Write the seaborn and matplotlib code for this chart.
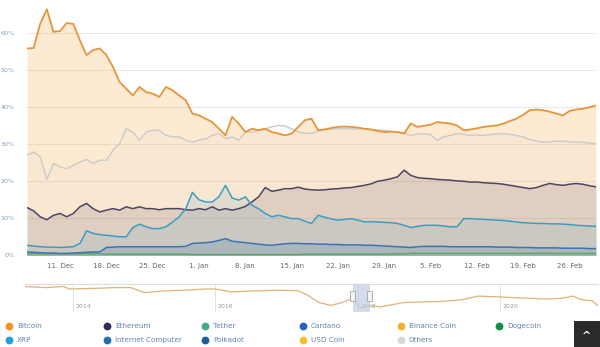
import matplotlib
matplotlib.use("Agg")
import matplotlib.pyplot as plt
import matplotlib.dates as mdates
from matplotlib.lines import Line2D
from matplotlib.patches import Rectangle
import seaborn as sns
import pandas as pd

# ---------------- data ----------------
start_date = "2017-12-06"
n_days = 87

bitcoin = [55.9, 56.0, 62.6, 66.5, 60.4, 60.6, 62.8, 62.5, 58.1, 54.1,
           55.5, 55.9, 54.1, 50.9, 46.8, 45.0, 43.2, 45.5, 44.1, 43.7,
           42.8, 45.5, 44.6, 43.2, 41.9, 38.3, 37.8, 36.9, 36.0, 34.2,
           32.4, 37.4, 35.6, 33.3, 34.2, 33.8, 34.2, 33.3, 32.9, 32.4,
           32.9, 34.7, 36.5, 36.9, 33.8, 34.0, 34.4, 34.7, 34.8, 34.7,
           34.5, 34.2, 34.0, 33.6, 33.3, 33.4, 33.3, 32.9, 35.6, 34.7,
           35.0, 35.3, 36.0, 35.8, 35.6, 35.1, 33.8, 34.0, 34.3, 34.7,
           34.9, 35.1, 35.6, 36.3, 36.9, 38.0, 39.2, 39.4, 39.2, 38.8,
           38.3, 37.8, 39.0, 39.4, 39.6, 40.0, 40.5]

ethereum = [12.9, 12.0, 10.4, 9.6, 10.8, 11.3, 10.4, 11.3, 13.1, 14.0,
            12.6, 11.7, 12.2, 12.6, 12.2, 13.1, 12.6, 13.1, 12.6, 12.6,
            12.3, 12.6, 12.6, 12.6, 12.3, 12.2, 12.6, 12.3, 13.1, 12.2,
            12.6, 12.2, 12.6, 13.2, 14.4, 15.8, 18.3, 17.3, 17.6, 18.0,
            18.0, 18.4, 17.9, 17.7, 17.6, 17.7, 17.9, 18.0, 18.2, 18.3,
            18.6, 18.9, 19.3, 20.0, 20.3, 20.7, 21.2, 23.0, 21.6, 21.0,
            20.8, 20.7, 20.5, 20.4, 20.3, 20.1, 20.0, 19.8, 19.8, 19.6,
            19.5, 19.4, 19.2, 18.9, 18.6, 18.3, 18.0, 18.3, 18.9, 19.4,
            19.1, 18.9, 19.2, 19.4, 19.2, 18.8, 18.5]

xrp = [2.7, 2.5, 2.3, 2.2, 2.2, 2.1, 2.2, 2.3, 3.2, 6.6,
       5.9, 5.6, 5.4, 5.2, 5.0, 5.0, 7.5, 8.4, 7.7, 7.2,
       7.2, 7.7, 9.0, 10.4, 12.6, 17.0, 15.0, 14.4, 14.4, 15.8,
       18.9, 15.5, 14.9, 15.8, 13.5, 12.6, 11.3, 10.4, 10.8, 10.4,
       9.9, 9.9, 9.2, 8.6, 10.8, 10.3, 9.8, 9.5, 9.7, 9.9,
       9.5, 9.0, 9.1, 9.0, 8.9, 8.8, 8.6, 8.1, 7.5, 7.8,
       8.1, 8.1, 8.1, 7.9, 7.7, 7.7, 9.9, 9.9, 9.8, 9.7,
       9.6, 9.5, 9.4, 9.2, 9.0, 8.8, 8.7, 8.6, 8.6, 8.5,
       8.5, 8.4, 8.3, 8.1, 8.0, 7.9, 7.8]

cardano = [0.9, 0.8, 0.7, 0.6, 0.6, 0.5, 0.5, 0.6, 0.7, 0.8,
           0.9, 0.9, 2.1, 2.2, 2.3, 2.3, 2.3, 2.3, 2.3, 2.3,
           2.3, 2.3, 2.3, 2.3, 2.4, 3.2, 3.3, 3.4, 3.6, 4.0,
           4.5, 3.8, 3.6, 3.4, 3.2, 3.0, 2.8, 2.7, 2.9, 3.1,
           3.2, 3.2, 3.1, 3.1, 3.0, 3.0, 2.9, 2.9, 2.8, 2.8,
           2.8, 2.7, 2.7, 2.6, 2.5, 2.4, 2.3, 2.2, 2.1, 2.3,
           2.4, 2.4, 2.4, 2.4, 2.3, 2.3, 2.3, 2.3, 2.3, 2.3,
           2.3, 2.2, 2.2, 2.2, 2.1, 2.1, 2.1, 2.0, 2.0, 2.0,
           2.0, 1.9, 1.9, 1.9, 1.9, 1.8, 1.8]

tether = [0.4, 0.4, 0.4, 0.3, 0.4, 0.4, 0.4, 0.4, 0.4, 0.4,
          0.4, 0.4, 0.3, 0.3, 0.3, 0.3, 0.3, 0.3, 0.3, 0.3,
          0.3, 0.3, 0.3, 0.3, 0.3, 0.2, 0.2, 0.2, 0.2, 0.2,
          0.2, 0.2, 0.2, 0.2, 0.2, 0.2, 0.2, 0.2, 0.2, 0.2,
          0.2, 0.2, 0.3, 0.3, 0.3, 0.3, 0.3, 0.3, 0.3, 0.3,
          0.3, 0.3, 0.3, 0.3, 0.3, 0.4, 0.4, 0.4, 0.5, 0.5,
          0.5, 0.5, 0.5, 0.5, 0.5, 0.5, 0.5, 0.5, 0.5, 0.5,
          0.5, 0.5, 0.5, 0.5, 0.5, 0.5, 0.5, 0.5, 0.5, 0.5,
          0.5, 0.5, 0.5, 0.5, 0.5, 0.5, 0.5]

others = [27.0, 27.9, 26.6, 20.5, 24.8, 23.9, 23.4, 24.3, 25.2, 25.9,
          24.8, 25.7, 25.7, 28.4, 30.2, 34.2, 33.3, 31.1, 33.3, 33.8,
          33.8, 32.4, 32.0, 32.0, 31.1, 30.6, 31.1, 31.5, 32.4, 32.9,
          31.5, 32.0, 31.1, 33.3, 33.3, 33.8, 34.2, 34.7, 35.1, 34.9,
          34.2, 33.3, 33.0, 32.9, 33.6, 34.0, 34.1, 34.2, 34.3, 34.1,
          34.2, 34.2, 34.0, 33.9, 33.8, 33.5, 33.3, 33.0, 32.4, 32.8,
          32.9, 32.6, 31.1, 32.0, 32.4, 32.9, 32.7, 32.4, 32.5, 32.4,
          32.6, 32.8, 32.9, 32.7, 32.4, 32.0, 31.3, 30.9, 30.6, 30.7,
          30.8, 30.9, 30.7, 30.6, 30.5, 30.3, 30.2]

nav_dates = ["2013-04-28", "2013-08-14", "2013-11-13", "2013-12-13", "2014-04-27",
             "2014-08-04", "2014-10-23", "2015-01-01", "2015-03-28", "2015-07-27",
             "2015-11-21", "2016-01-01", "2016-03-21", "2016-06-28", "2016-11-13",
             "2017-02-28", "2017-04-20", "2017-06-17", "2017-08-15", "2017-10-12",
             "2017-11-25", "2017-12-08", "2018-01-10", "2018-03-01", "2018-04-27",
             "2018-08-22", "2018-12-01", "2019-03-10", "2019-06-21", "2019-09-10",
             "2020-01-01", "2020-04-08", "2020-08-25", "2020-11-13", "2021-01-11",
             "2021-02-20", "2021-04-20", "2021-05-18"]
nav_btc = [95.0, 91.8, 95.0, 87.8, 89.8,
           91.8, 91.8, 77.4, 81.7, 84.6,
           87.8, 87.8, 79.4, 81.7, 84.6,
           82.6, 69.3, 48.6, 40.5, 48.6,
           58.0, 62.0, 33.0, 40.0, 36.2,
           48.6, 50.6, 51.8, 57.0, 67.3,
           65.0, 62.1, 59.0, 61.0, 67.3,
           57.0, 53.8, 38.5]
nav_years = [2014, 2016, 2018, 2020]

legend_row1 = ["Bitcoin", "Ethereum", "Tether", "Cardano", "Binance Coin", "Dogecoin"]
legend_row1_colors = ["#F7931A", "#2E2E5C", "#3FAE85", "#2A5FC9", "#F0B429", "#0E9142"]
legend_row2 = ["XRP", "Internet Computer", "Polkadot", "USD Coin", "Others"]
legend_row2_colors = ["#1FA0D8", "#1F6FB0", "#17609E", "#F2C12E", "#D9D9D9"]

y_ticks = [0, 10, 20, 30, 40, 50, 60]

# ---------------- figure ----------------
sns.set_style("white")
plt.rcParams['font.family'] = ['DejaVu Sans']

W, H = 600, 347
fig = plt.figure(figsize=(6.0, 3.47), dpi=100)


def fx(px):
    return px / W


def fy(px):
    return 1 - px / H


dates = pd.date_range(start_date, periods=n_days, freq="D")
ax = fig.add_axes([fx(27), fy(256), fx(596) - fx(27), fy(0) - fy(256)])

series = [
    ("Bitcoin", bitcoin, "#E5953A", "#F7931A", 0.19, 1.3, 5),
    ("Ethereum", ethereum, "#4B4563", "#4B4563", 0.15, 1.1, 4),
    ("Tether", tether, "#5DAA68", "#5DAA68", 0.2, 1.1, 4),
    ("Cardano", cardano, "#3B73B3", "#3B73B3", 0.22, 1.1, 4),
    ("XRP", xrp, "#3A9EC2", "#5A9CC4", 0.16, 1.1, 4),
    ("Others", others, "#CACACA", "#BBBBBB", 0.05, 1.0, 3),
]

for name, vals, lc, fc, a, lw, z in series:
    ax.fill_between(dates, 0, vals, color=fc, alpha=a, lw=0, zorder=2)
for name, vals, lc, fc, a, lw, z in series:
    sns.lineplot(x=dates, y=vals, ax=ax, color=lc, lw=lw, legend=False, zorder=z)

ax.set_xlim(dates[0], dates[-1])
ax.set_ylim(-0.2, 69.0)
ax.set_yticks(y_ticks)
ax.set_yticklabels([f"{v}%" for v in y_ticks])
ax.yaxis.grid(True, color="#E8E8E8", lw=0.7, zorder=0)
ax.xaxis.grid(False)
ax.set_axisbelow(True)
ax.xaxis.set_major_locator(mdates.WeekdayLocator(byweekday=mdates.MO))
ax.xaxis.set_major_formatter(mdates.DateFormatter("%-d. %b"))
ax.tick_params(axis="x", length=0, pad=5, labelsize=5, labelcolor="#666666")
ax.tick_params(axis="y", length=0, pad=9, labelsize=4.6, labelcolor="#8AA0B8")
ax.set_xlabel("")
ax.set_ylabel("")
for s in ax.spines.values():
    s.set_visible(False)

# ---------------- navigator ----------------
nax = fig.add_axes([fx(25), fy(312), fx(598) - fx(25), fy(284) - fy(312)])
nd = pd.to_datetime(nav_dates)
sns.lineplot(x=nd, y=nav_btc, ax=nax, color="#DDB478", lw=0.9, legend=False, zorder=3)
nax.set_xlim(nd[0], nd[-1])
nax.set_ylim(21.5, 102.2)
nax.set_xticks([])
nax.set_yticks([])
nax.set_xlabel("")
nax.set_ylabel("")
for k, s in nax.spines.items():
    s.set_visible(k == "top")
nax.spines["top"].set_color("#DDDDDD")
nax.spines["top"].set_linewidth(0.8)
for yr in nav_years:
    t = pd.Timestamp(f"{yr}-01-01")
    nax.axvline(t, color="#E3E3E3", lw=0.7, zorder=1)
    nax.text(t + pd.Timedelta(days=12), 0.2, str(yr), transform=nax.get_xaxis_transform(),
             fontsize=4.5, color="#9A9A9A", va="center", ha="left", zorder=2)

sel0, sel1 = pd.Timestamp(dates[0]), pd.Timestamp(dates[-1])
nax.axvspan(sel0, sel1, color="#C5D1E3", alpha=0.75, lw=0, zorder=4)
fig.canvas.draw()
for t in (sel0, sel1):
    xd = nax.transData.transform((mdates.date2num(t), 50))[0]
    fig.add_artist(Rectangle((xd - 2.5, H - 301), 5, 10, transform=None,
                             facecolor="#F2F2F2", edgecolor="#999999", lw=0.5, zorder=6))

# ---------------- legend ----------------
for row, (names, cols) in enumerate([(legend_row1, legend_row1_colors),
                                     (legend_row2, legend_row2_colors)]):
    ypx = 326 + 14 * row
    for i, (nm, c) in enumerate(zip(names, cols)):
        xm = 9 + 98 * i
        fig.add_artist(Line2D([fx(xm)], [fy(ypx)], marker="o", ms=4.6, color=c,
                              lw=0, transform=fig.transFigure))
        fig.text(fx(xm + 8), fy(ypx), nm, fontsize=5.2, color="#6383B3",
                 va="center", ha="left")

# scroll-to-top button
fig.add_artist(Rectangle((fx(574), 0), fx(600) - fx(574), fy(321),
                         transform=fig.transFigure, facecolor="#2B2B2B", lw=0))
fig.text(fx(587), fy(336), "^", fontsize=8, color="white", ha="center", va="center",
         fontweight="bold")

fig.savefig("out.png", dpi=100)
